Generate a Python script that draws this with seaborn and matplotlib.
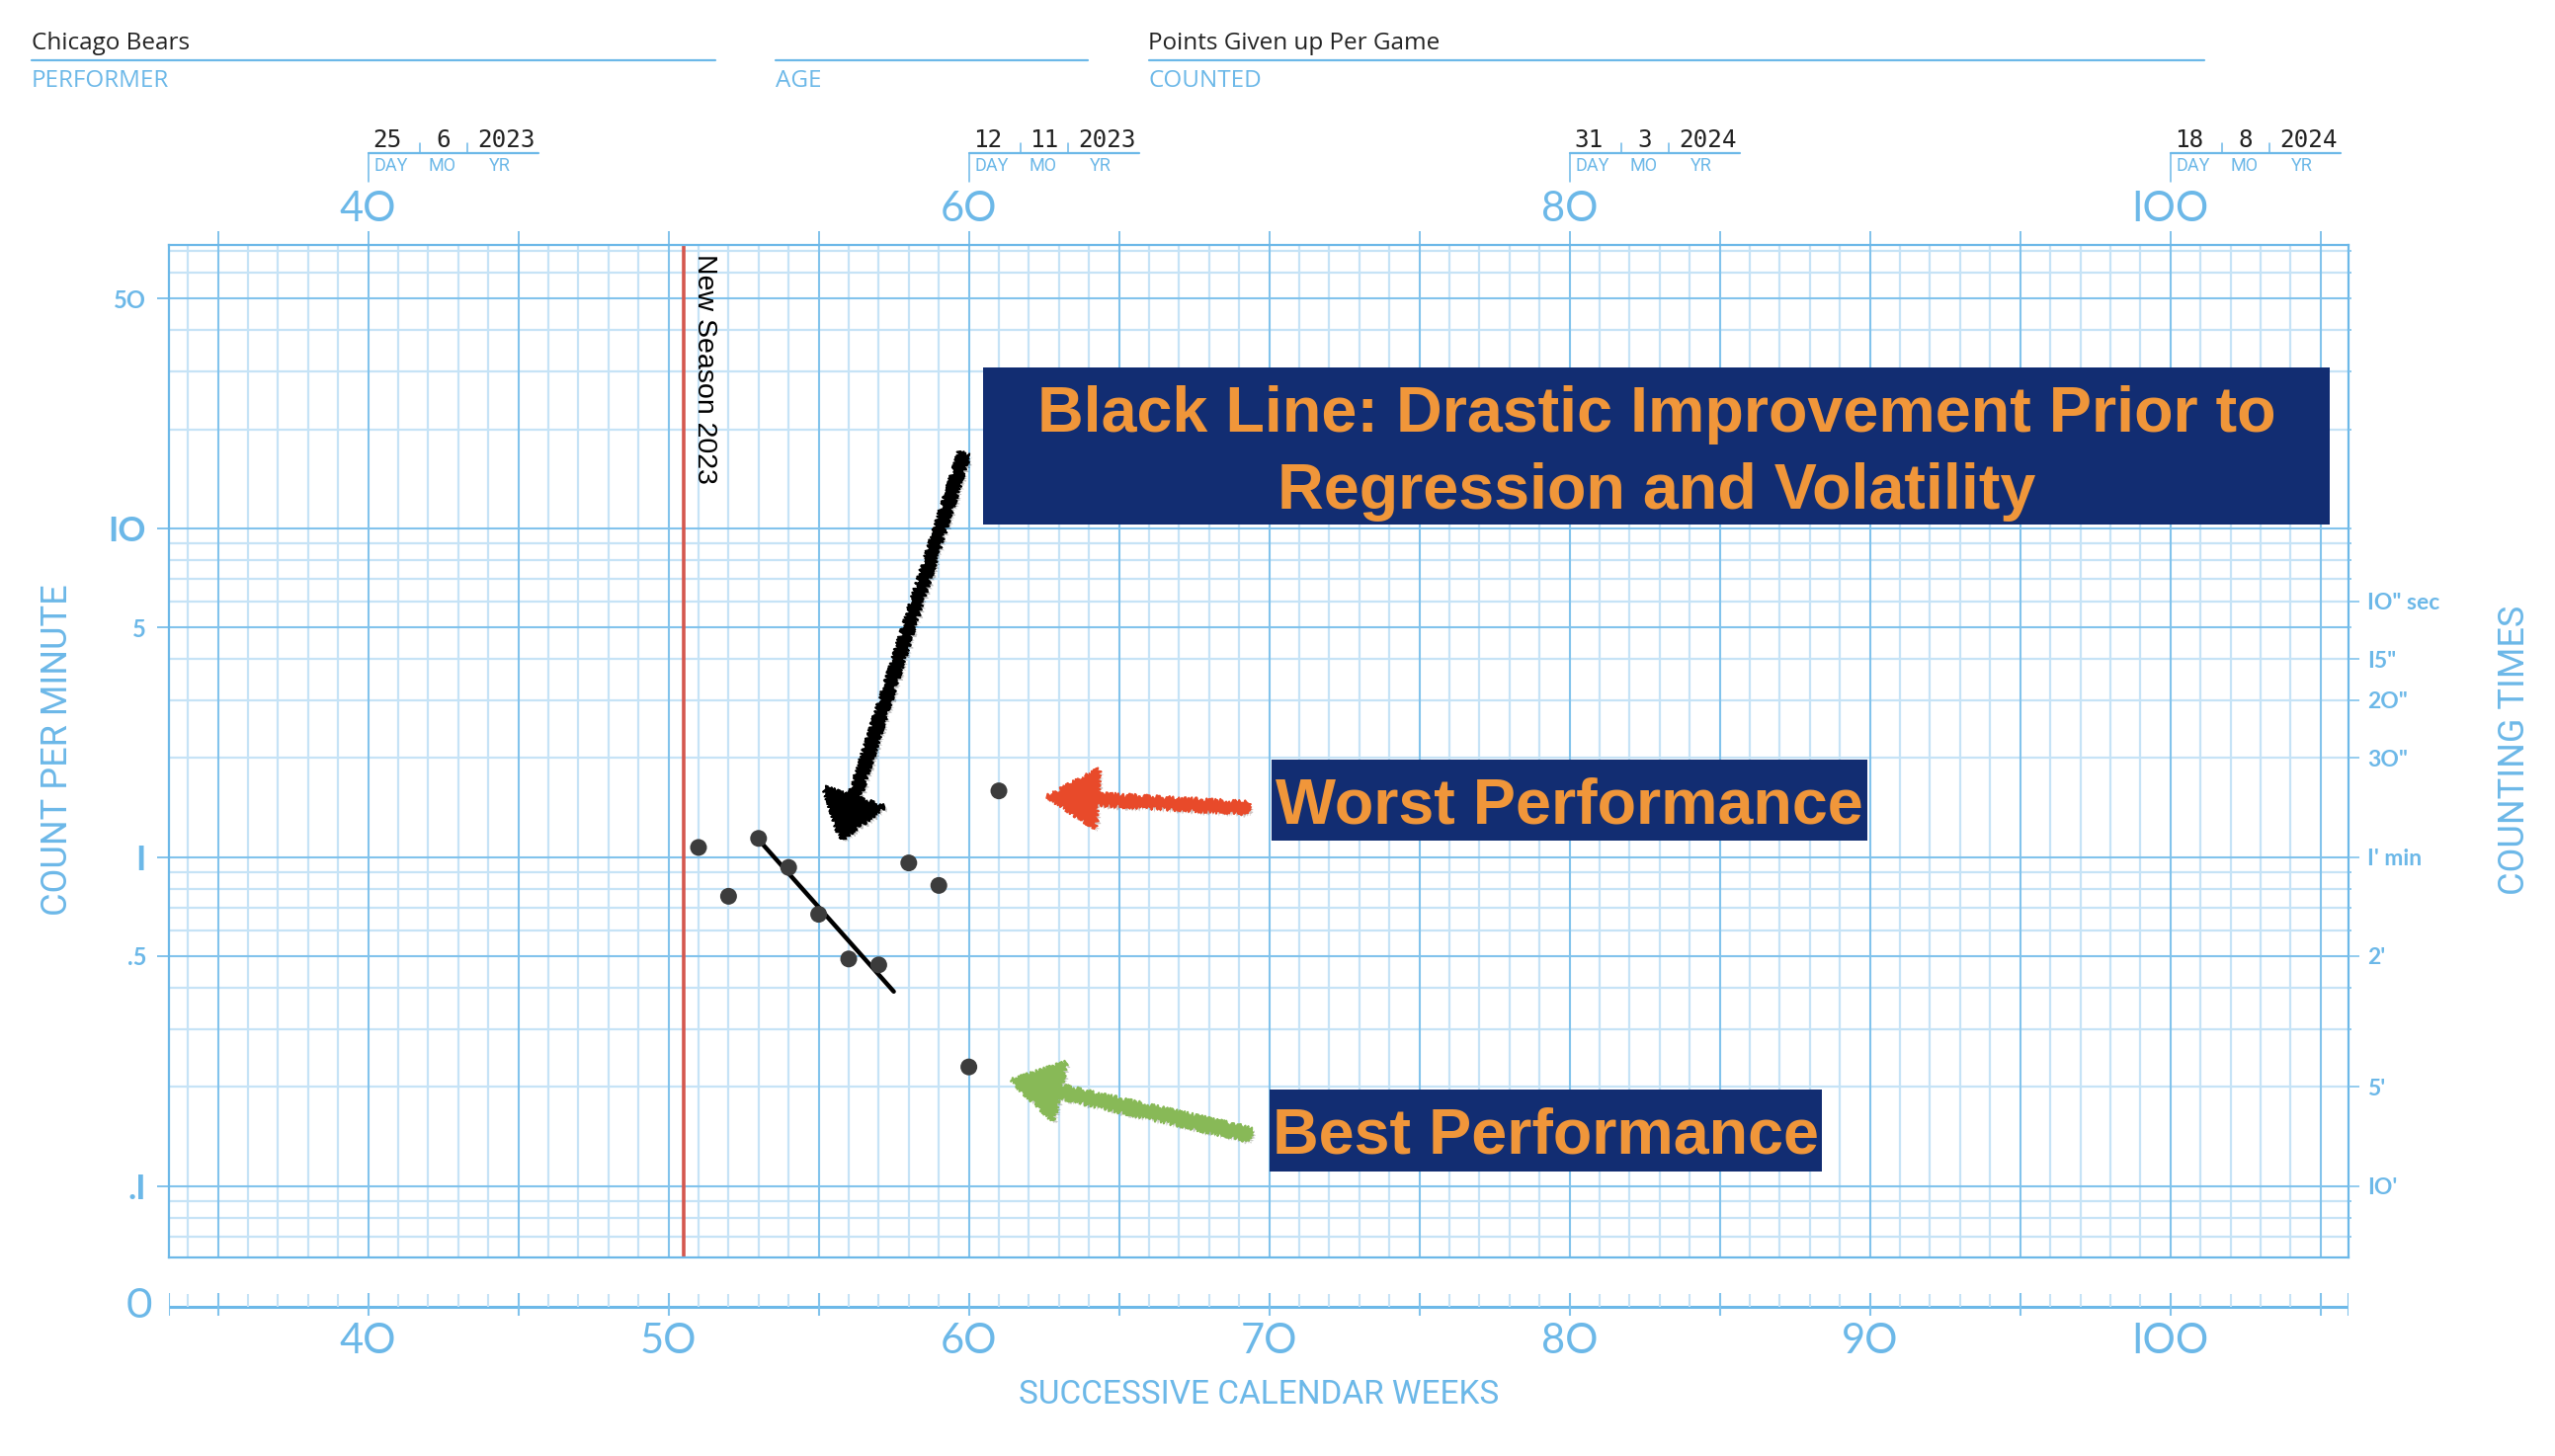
import matplotlib
matplotlib.use("Agg")
import matplotlib.pyplot as plt
import matplotlib.patheffects as pe
from matplotlib.patches import Rectangle, FancyArrowPatch, ArrowStyle
from matplotlib.ticker import FixedLocator, NullLocator
import numpy as np
import pandas as pd
import seaborn as sns

sns.set_theme(style="white")
plt.rcParams["font.family"] = ["Open Sans", "DejaVu Sans"]

# ---------------- data ----------------
weeks = [51, 52, 53, 54, 55, 56, 57, 58, 59, 60, 61]
points_given = [1.07, 0.76, 1.14, 0.93, 0.67, 0.49, 0.47, 0.96, 0.82, 0.23, 1.59]
trend_weeks = [53.0, 57.5]
trend_values = [1.13, 0.39]
season_week = 50.5
season_label = "New Season 2023"

x_range = (33.37, 105.93)
y_range = (0.0607, 73.0)

top_weeks = [40, 60, 80, 100]
top_labels = ["4O", "6O", "8O", "IOO"]
date_days = ["25", "12", "31", "18"]
date_months = ["6", "11", "3", "8"]
date_years = ["2023", "2023", "2024", "2024"]

bottom_weeks = [40, 50, 60, 70, 80, 90, 100]
bottom_labels = ["4O", "5O", "6O", "7O", "8O", "9O", "IOO"]

left_ticks = [0.1, 0.5, 1, 5, 10, 50]
left_labels = [".I", ".5", "I", "5", "IO", "5O"]
left_big = [True, False, True, False, True, False]

right_ticks = [6, 4, 3, 2, 1, 0.5, 0.2, 0.1]
right_labels = ['IO" sec', 'I5"', '2O"', '3O"', "I' min", "2'", "5'", "IO'"]

performer = "Chicago Bears"
counted = "Points Given up Per Game"
title_lines = ["Black Line: Drastic Improvement Prior to", "Regression and Volatility"]
worst_text = "Worst Performance"
best_text = "Best Performance"

# arrow annotation anchors (week, count) : tail -> tip
black_arrow = [(59.84, 16.8), (55.74, 1.13)]
red_arrow = [(69.3, 1.41), (62.63, 1.53)]
green_arrow = [(69.37, 0.143), (61.42, 0.209)]

# ---------------- style ----------------
W, H, DPI = 2586, 1474, 100
BLUE = "#6cb8e8"
BLUE_MAJOR = "#82c3ec"
BLUE_MINOR = "#c6e3f6"
NAVY = "#122d72"
ORANGE = "#f0963a"
RED = "#d4574e"
DOT = "#3c3c3c"
NUMFONT = ["Lato", "DejaVu Sans"]
NARROW = ["Liberation Sans Narrow", "Roboto", "DejaVu Sans"]
ARIAL = ["Liberation Sans", "DejaVu Sans"]

fig = plt.figure(figsize=(W / DPI, H / DPI), dpi=DPI)
fig.patch.set_facecolor("white")

def fx(px):
    return px / W

def fy(py):
    return 1 - py / H

L, R, T, B = 171, 2377, 247.5, 1272.7
ax = fig.add_axes([fx(L), fy(B), fx(R) - fx(L), fy(T) - fy(B)])
ax.set_yscale("log")
ax.set_xlim(*x_range)
ax.set_ylim(*y_range)
ax.set_facecolor("white")

# grid lines (chart paper)
grid_y = [m * 10.0 ** e for e in range(-2, 2) for m in range(1, 10)]
grid_y = [v for v in grid_y if y_range[0] < v < y_range[1]]
maj_y = [v for v in grid_y if round(v / 10 ** np.floor(np.log10(v) + 1e-9)) in (1, 5)]
min_y = [v for v in grid_y if v not in maj_y]
grid_x = list(range(34, 106))
maj_x = [w for w in grid_x if w % 5 == 0]
min_x = [w for w in grid_x if w % 5 != 0]

ax.hlines(min_y, *x_range, colors=BLUE_MINOR, lw=1.6, zorder=0.5)
ax.vlines(min_x, *y_range, colors=BLUE_MINOR, lw=1.6, zorder=0.5)
ax.hlines(maj_y, *x_range, colors=BLUE_MAJOR, lw=1.5, zorder=0.6)
ax.vlines(maj_x, *y_range, colors=BLUE_MAJOR, lw=1.5, zorder=0.6)

for s in ax.spines.values():
    s.set_color(BLUE)
    s.set_linewidth(1.6)

# x ticks: major marks on top
ax.set_xticks(maj_x)
ax.xaxis.set_minor_locator(NullLocator())
ax.tick_params(axis="x", which="major", top=True, bottom=False, labeltop=False,
               labelbottom=False, length=10, width=1.2, color=BLUE, direction="out")

# left y ticks
ax.yaxis.set_major_locator(FixedLocator(left_ticks))
ax.yaxis.set_minor_locator(NullLocator())
ax.set_yticklabels(left_labels)
ax.tick_params(axis="y", which="major", left=True, right=False, length=8.5, width=1.2,
               color=BLUE, direction="out", pad=8, labelcolor=BLUE)
for lab, big in zip(ax.get_yticklabels(), left_big):
    lab.set_fontfamily(NUMFONT)
    lab.set_fontweight("bold")
    lab.set_fontsize(25 if big else 17)

# right y ticks (counting times)
ax2 = ax.twinx()
ax2.set_yscale("log")
ax2.set_ylim(*y_range)
ax2.yaxis.set_major_locator(FixedLocator(right_ticks))
ax2.yaxis.set_minor_locator(FixedLocator(grid_y))
ax2.set_yticklabels(right_labels)
ax2.tick_params(axis="y", which="major", right=True, left=False, length=8, width=1.2,
                color=BLUE_MAJOR, direction="out", pad=6, labelcolor=BLUE)
ax2.tick_params(axis="y", which="minor", right=True, left=False, length=2.5, width=1.2,
                color=BLUE_MAJOR, direction="out")
ax2.yaxis.set_minor_formatter(plt.NullFormatter())
for lab in ax2.get_yticklabels():
    lab.set_fontfamily(NUMFONT)
    lab.set_fontweight("bold")
    lab.set_fontsize(16.5)
for s in ax2.spines.values():
    s.set_visible(False)
ax2.grid(False)
ax.grid(False)

# data
df = pd.DataFrame({"week": weeks, "count": points_given})
tr = pd.DataFrame({"week": trend_weeks, "count": trend_values})
ax.axvline(season_week, color=RED, lw=2.6, zorder=2)
sns.lineplot(data=tr, x="week", y="count", ax=ax, color="black", linewidth=3.2, zorder=3)
sns.scatterplot(data=df, x="week", y="count", ax=ax, color=DOT, s=150, edgecolor="none",
                zorder=4)
ax.set_xlabel("")
ax.set_ylabel("")
ax.set_xlim(*x_range)
ax.set_ylim(*y_range)

def data_px(w, v=1.0):
    return ax.transData.transform((w, v))

sx, _ = data_px(season_week)
fig.text(fx(sx + 21), fy(257), season_label, rotation=270, ha="center", va="top",
         fontsize=20.5, family=ARIAL, color="black")

# ---------------- header ----------------
fig.text(fx(31.5), fy(50), performer, fontsize=17.5, color="#222222", va="baseline")
fig.text(fx(1162.5), fy(50), counted, fontsize=17.5, color="#222222", va="baseline")
for x0, x1, lab in [(31.5, 724, "PERFORMER"), (785, 1101, "AGE"), (1162.5, 2231, "COUNTED")]:
    fig.add_artist(plt.Line2D([fx(x0), fx(x1)], [fy(60.7), fy(60.7)], color=BLUE, lw=1.6))
    fig.text(fx(x0), fy(88), lab, fontsize=17.5, color=BLUE, va="baseline")

# top week labels + date stamps
for w, lab, d, m, y in zip(top_weeks, top_labels, date_days, date_months, date_years):
    x0, _ = data_px(w)
    fig.text(fx(x0), fy(212), lab, fontsize=30, family=NUMFONT, color=BLUE,
             ha="center", va="center")
    fig.add_artist(plt.Line2D([fx(x0), fx(x0)], [fy(155), fy(184)], color=BLUE, lw=1.1))
    fig.add_artist(plt.Line2D([fx(x0), fx(x0 + 172)], [fy(155), fy(155)], color=BLUE, lw=1.6))
    for off in (52, 100):
        fig.add_artist(plt.Line2D([fx(x0 + off)] * 2, [fy(145), fy(155)], color=BLUE, lw=1.1))
    for txt, off in [(d, 19), (m, 76), (y, 140)]:
        fig.text(fx(x0 + off), fy(149), txt, fontsize=17.5, family=["DejaVu Sans Mono"],
                 color="#222222", ha="center", va="baseline")
    for txt, off in [("DAY", 6), ("MO", 61), ("YR", 122)]:
        fig.text(fx(x0 + off), fy(168), txt, fontsize=13, family=NARROW, color=BLUE,
                 ha="left", va="center")

# ---------------- zero strip ----------------
ax0 = fig.add_axes([fx(L), fy(1348), fx(R) - fx(L), fy(1298) - fy(1348)])
ax0.set_xlim(*x_range)
ax0.set_ylim(25, -25)
ax0.axis("off")
ax0.hlines(0, *x_range, colors=BLUE, lw=2.2)
ax0.vlines(min_x, -13, 0, colors=BLUE_MINOR, lw=1.5)
ax0.vlines(maj_x + list(x_range), -14, 9, colors=BLUE_MAJOR, lw=1.5)
fig.text(fx(141), fy(1323), "O", fontsize=30, family=NARROW, color=BLUE,
         ha="center", va="center")
for w, lab in zip(bottom_weeks, bottom_labels):
    x0, _ = data_px(w)
    fig.text(fx(x0), fy(1358), lab, fontsize=30, family=NUMFONT, color=BLUE,
             ha="center", va="center")

fig.text(fx((L + R) / 2), fy(1412), "SUCCESSIVE CALENDAR WEEKS", fontsize=24, family=NARROW,
         color=BLUE, ha="center", va="center")
fig.text(fx(58), fy(759), "COUNT PER MINUTE", fontsize=26, family=NARROW, color=BLUE,
         rotation=90, ha="center", va="center")
fig.text(fx(2545), fy(759), "COUNTING TIMES", fontsize=26, family=NARROW, color=BLUE,
         rotation=90, ha="center", va="center")

# ---------------- annotation boxes ----------------
def box(x0, y0, x1, y1):
    fig.add_artist(Rectangle((fx(x0), fy(y1)), fx(x1) - fx(x0), fy(y0) - fy(y1),
                             transform=fig.transFigure, facecolor=NAVY, edgecolor="none",
                             zorder=5))

box(995, 372, 2358, 531)
fig.text(fx(1677), fy(437), title_lines[0], fontsize=46.5, weight="bold", family=ARIAL,
         color=ORANGE, ha="center", va="baseline", zorder=6)
fig.text(fx(1677), fy(515), title_lines[1], fontsize=46.5, weight="bold", family=ARIAL,
         color=ORANGE, ha="center", va="baseline", zorder=6)
box(1287, 769, 1890, 851)
fig.text(fx(1588), fy(834), worst_text, fontsize=46.5, weight="bold", family=ARIAL,
         color=ORANGE, ha="center", va="baseline", zorder=6)
box(1285, 1103, 1844, 1186)
fig.text(fx(1564), fy(1168), best_text, fontsize=46.5, weight="bold", family=ARIAL,
         color=ORANGE, ha="center", va="baseline", zorder=6)

# ---------------- hand-drawn arrows ----------------
def chalk_arrow(tail, tip, color, hl, hw, tw):
    style = ArrowStyle.Simple(head_length=hl, head_width=hw, tail_width=tw)
    arr = FancyArrowPatch(tail, tip, arrowstyle=style, mutation_scale=72, color=color,
                          lw=1.5, shrinkA=0, shrinkB=0, zorder=6, transform=ax.transData,
                          clip_on=False)
    arr.set_sketch_params(scale=2.5, length=3.0, randomness=3.0)
    arr.set_path_effects([pe.SimplePatchShadow(offset=(2, -2), alpha=0.25), pe.Normal()])
    ax.add_patch(arr)

chalk_arrow(black_arrow[0], black_arrow[1], "black", 0.45, 0.64, 0.1)
chalk_arrow(red_arrow[0], red_arrow[1], "#e84a2a", 0.5, 0.6, 0.1)
chalk_arrow(green_arrow[0], green_arrow[1], "#88b957", 0.5, 0.6, 0.12)

fig.savefig("out.png", dpi=DPI, facecolor="white")
